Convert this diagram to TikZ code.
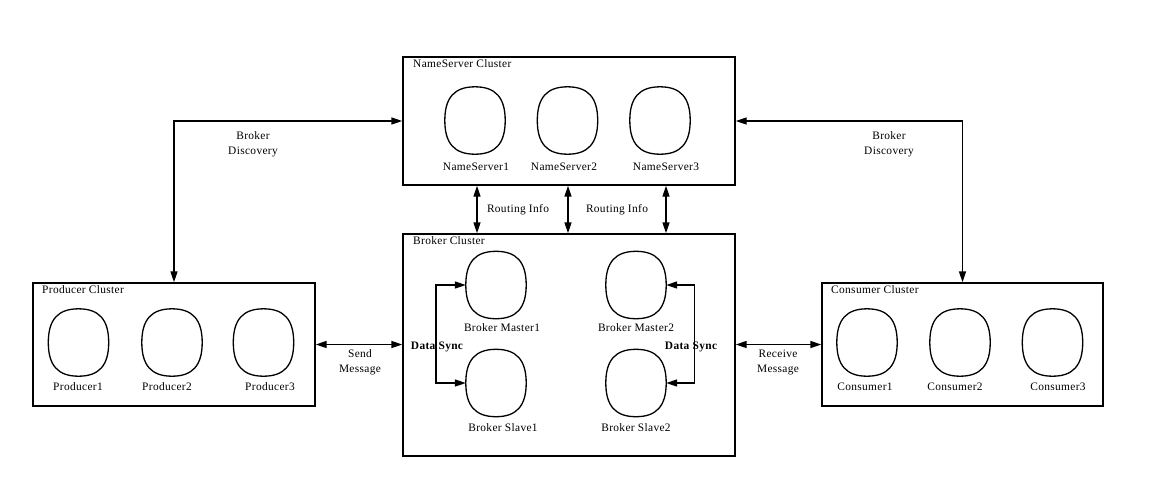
\documentclass[tikz,border=0pt]{standalone}
\usepackage{fontspec}
\setmainfont{Liberation Serif}[LetterSpace=3]
\usetikzlibrary{arrows.meta,calc}
\newcommand\ovalof[1]{%
  \draw[ovalline] (#1.north)
   .. controls ($(#1.north)!0.68!(#1.north east)$) and ($(#1.east)!0.68!(#1.north east)$) .. (#1.east)
   .. controls ($(#1.east)!0.68!(#1.south east)$) and ($(#1.south)!0.68!(#1.south east)$) .. (#1.south)
   .. controls ($(#1.south)!0.68!(#1.south west)$) and ($(#1.west)!0.68!(#1.south west)$) .. (#1.west)
   .. controls ($(#1.west)!0.68!(#1.north west)$) and ($(#1.north)!0.68!(#1.north west)$) .. (#1.north) -- cycle;}
\begin{document}
\begin{tikzpicture}[x=1pt,y=-1pt,
  cluster/.style={draw,line width=1.4pt,rectangle,inner sep=0pt},
  srv/.style={rectangle,minimum width=60pt,minimum height=67pt,inner sep=0pt},
  ovalline/.style={line width=1.3pt},
  lbl/.style={font=\fontsize{11.4}{13}\selectfont,inner sep=0pt},
  ttl/.style={font=\fontsize{11.4}{13}\selectfont,inner sep=0pt,anchor=west},
  two/.style={font=\fontsize{11.4}{15}\selectfont,inner sep=0pt,align=center},
  bi/.style={line width=1.4pt,{Triangle[length=11pt,width=7pt]}-{Triangle[length=11pt,width=7pt]}}]
\useasboundingbox (0,0) rectangle (1159,491);
% clusters
\node[cluster,minimum width=332pt,minimum height=128pt] (ns) at (569,121) {};
\node[cluster,minimum width=332pt,minimum height=222pt] (bc) at (569,345) {};
\node[cluster,minimum width=282pt,minimum height=123pt] (pc) at (174,344.5) {};
\node[cluster,minimum width=281pt,minimum height=123pt] (cc) at (962.5,344.5) {};
% titles
\node[ttl] (nst) at (413,64) {NameServer Cluster};
\node[ttl] (bct) at (413,241) {Broker Cluster};
\node[ttl] (pct) at (42,290) {Producer Cluster};
\node[ttl] (cct) at (831,290) {Consumer Cluster};
% name servers
\node[srv] (n1) at (475,120.5) {};
\node[srv] (n2) at (567.5,120.5) {};
\node[srv] (n3) at (660,120.5) {};
\node[lbl] (n1l) at (476,167) {NameServer1};
\node[lbl] (n2l) at (564,167) {NameServer2};
\node[lbl] (n3l) at (666,167) {NameServer3};
% brokers
\node[srv] (m1) at (496,285) {};
\node[srv] (m2) at (636,285) {};
\node[srv] (s1) at (496,383) {};
\node[srv] (s2) at (636,383) {};
\node[lbl] (m1l) at (502,328) {Broker Master1};
\node[lbl] (m2l) at (636,328) {Broker Master2};
\node[lbl] (s1l) at (503,428) {Broker Slave1};
\node[lbl] (s2l) at (636,428) {Broker Slave2};
% producers
\node[srv] (p1) at (78.5,342.5) {};
\node[srv] (p2) at (172,342.5) {};
\node[srv] (p3) at (263.5,342.5) {};
\node[lbl] (p1l) at (78,387) {Producer1};
\node[lbl] (p2l) at (167,387) {Producer2};
\node[lbl] (p3l) at (270,387) {Producer3};
% consumers
\node[srv] (c1) at (867,342.5) {};
\node[srv] (c2) at (960,342.5) {};
\node[srv] (c3) at (1052.5,342.5) {};
\node[lbl] (c1l) at (865,387) {Consumer1};
\node[lbl] (c2l) at (955,387) {Consumer2};
\node[lbl] (c3l) at (1058,387) {Consumer3};
\foreach \n in {n1,n2,n3,m1,m2,s1,s2,p1,p2,p3,c1,c2,c3} {\ovalof{\n}}
% broker discovery
\draw[bi] (ns.west) -| (pc.north);
\draw[bi] (ns.east) -| (cc.north);
\node[two] (bdl) at (253,144.5) {Broker\\Discovery};
\node[two] (bdr) at (889,144.5) {Broker\\Discovery};
% routing info
\coordinate (r1) at (477,0);
\coordinate (r2) at (568,0);
\coordinate (r3) at (666,0);
\draw[bi] (ns.south -| r1) -- (bc.north -| r1);
\draw[bi] (ns.south -| r2) -- (bc.north -| r2);
\draw[bi] (ns.south -| r3) -- (bc.north -| r3);
\node[lbl] (ri1) at (518,210) {Routing Info};
\node[lbl] (ri2) at (617,210) {Routing Info};
% send / receive
\draw[bi] (pc.east) -- (pc.east -| bc.west);
\draw[bi] (bc.east |- cc.west) -- (cc.west);
\node[two] (sm) at (360,362.5) {Send\\Message};
\node[two] (rm) at (778,362.5) {Receive\\Message};
% data sync
\draw[bi] (m1.west) -- ++(-30,0) |- (s1.west);
\draw[bi] (m2.east) -- ++(28,0) |- (s2.east);
\node[lbl,font=\fontsize{11.4}{13}\selectfont\bfseries] (ds1) at (437,347) {Data Sync};
\node[lbl,font=\fontsize{11.4}{13}\selectfont\bfseries] (ds2) at (691,347) {Data Sync};
\end{tikzpicture}
\end{document}
